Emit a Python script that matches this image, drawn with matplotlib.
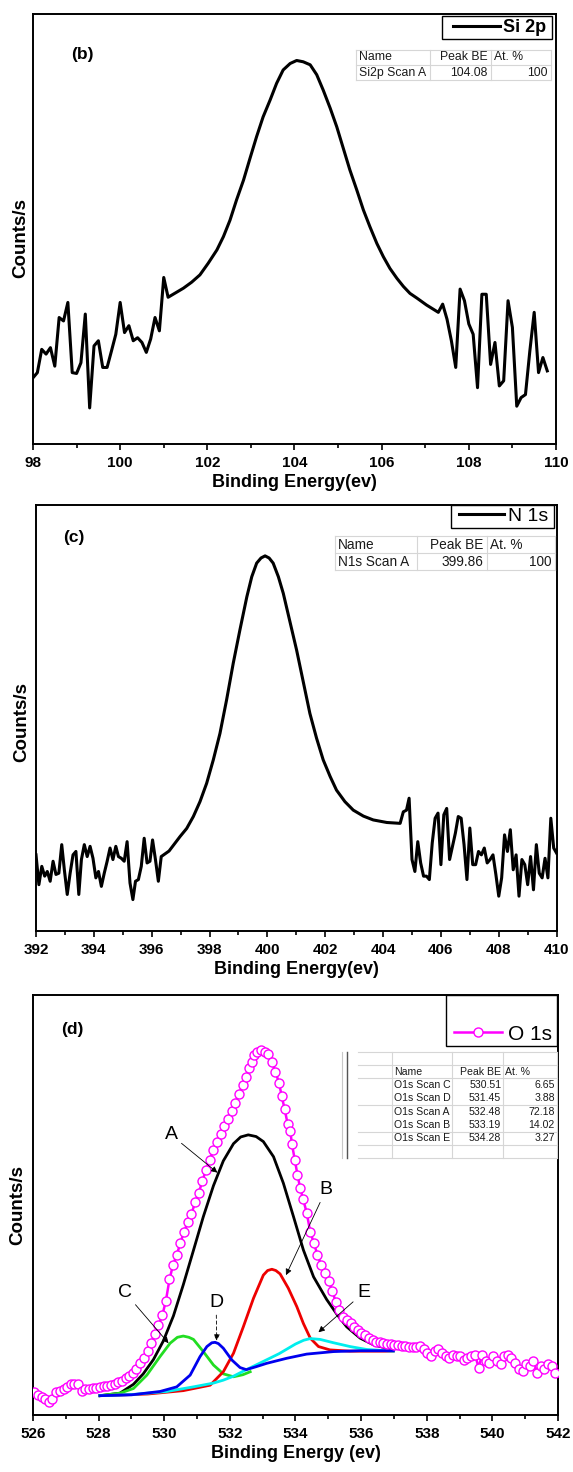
import numpy as np
import matplotlib
matplotlib.use('Agg')
import matplotlib.pyplot as plt
from matplotlib.ticker import MultipleLocator
from matplotlib.patches import Rectangle

plt.rcParams['font.family'] = ['Liberation Sans', 'DejaVu Sans']

# ---------------- Si 2p (b) ----------------
si_left_be = np.round(np.linspace(98.0, 101.1, 32), 2)
si_left_counts = [15.5, 16.7, 22.1, 21.0, 22.5, 18.2, 29.5, 28.7, 33.0, 16.7,
                  16.5, 19.0, 30.3, 8.5, 22.9, 24.1, 17.9, 17.9, 21.7, 25.6,
                  33.0, 26.0, 27.6, 24.1, 24.8, 23.7, 21.4, 24.5, 29.5, 26.4,
                  38.8, 34.2]
si_peak_be = [101.45, 101.64, 101.83, 102.02, 102.22, 102.37, 102.52, 102.67, 102.83, 102.98,
              103.13, 103.28, 103.44, 103.59, 103.74, 103.90, 104.05, 104.20, 104.36, 104.51,
              104.66, 104.82, 104.97, 105.12, 105.27, 105.43, 105.58, 105.73, 105.89, 106.04,
              106.19, 106.35, 106.50, 106.65, 106.81, 107.03]
si_peak_counts = [36.3, 37.7, 39.4, 42.1, 45.2, 48.3, 52.1, 56.8, 61.4, 66.5,
                  71.5, 76.1, 80.0, 83.9, 87.0, 88.5, 89.2, 88.9, 88.2, 85.9,
                  82.3, 78.1, 73.8, 68.8, 63.8, 59.1, 54.5, 50.6, 46.7, 43.6,
                  40.9, 38.6, 36.7, 35.1, 34.0, 32.4]
si_right_be = np.round(np.linspace(107.3, 109.8, 26), 2)
si_right_counts = [30.7, 32.6, 29.1, 24.1, 17.9, 36.1, 33.4, 28.0, 25.6, 13.2,
                   34.9, 34.9, 18.6, 23.7, 13.6, 14.8, 33.4, 27.2, 8.9, 10.9,
                   11.6, 21.7, 30.7, 16.7, 20.2, 17.1]
si_table = [["Name", "Peak BE", "At. %"], ["Si2p Scan A", "104.08", "100"]]

# ---------------- N 1s (c) ----------------
n_left_be = np.round(np.linspace(392.0, 396.33, 45), 2)
n_left_counts = [17.9, 10.9, 15.2, 12.9, 14.0, 11.7, 16.4, 13.3, 13.6, 20.3,
                 14.4, 8.6, 13.6, 17.9, 18.7, 8.6, 16.8, 20.3, 17.5, 19.9,
                 17.1, 12.5, 14.0, 10.5, 13.6, 16.4, 19.5, 16.8, 19.9, 17.5,
                 17.1, 16.4, 21.0, 11.3, 7.4, 11.7, 12.1, 15.2, 21.8, 16.0,
                 16.4, 21.4, 16.8, 11.7, 17.5]
n_peak_be = [396.60, 396.98, 397.21, 397.44, 397.67, 397.90, 398.13, 398.36, 398.59, 398.82,
             399.05, 399.29, 399.46, 399.63, 399.78, 399.92, 400.06, 400.20, 400.38, 400.55,
             400.78, 401.01, 401.24, 401.47, 401.70, 401.93, 402.17, 402.39, 402.68, 402.97,
             403.32, 403.66, 404.13, 404.59, 404.70, 404.81, 404.90]
n_peak_counts = [18.8, 22.2, 24.1, 26.9, 30.4, 34.7, 40.2, 46.4, 54.3, 62.9,
                 70.7, 78.5, 83.2, 86.4, 87.6, 88.1, 87.6, 86.4, 83.2, 79.3,
                 72.6, 66.0, 58.6, 51.1, 45.3, 40.2, 36.3, 33.1, 30.4, 28.4,
                 27.0, 26.1, 25.5, 25.3, 28.0, 28.4, 31.2]
n_right_be = np.round(np.linspace(405.0, 410.0, 51), 2)
n_right_counts = [16.8, 14.0, 21.0, 16.0, 12.9, 12.9, 12.1, 20.7, 26.5, 27.7,
                  15.6, 27.3, 28.8, 16.8, 19.9, 23.0, 26.9, 26.5, 20.3, 12.1,
                  24.2, 15.6, 15.6, 18.7, 17.9, 19.5, 16.0, 16.8, 17.9, 13.3,
                  8.2, 12.5, 22.6, 18.7, 23.8, 14.4, 17.9, 8.2, 16.8, 15.6,
                  10.9, 17.5, 9.7, 20.3, 13.6, 12.5, 17.1, 12.5, 26.5, 19.5,
                  18.3]
n_table = [["Name", "Peak BE", "At. %"], ["N1s Scan A", "399.86", "100"]]

# ---------------- O 1s (d) ----------------
o_be = [526.03, 526.14, 526.26, 526.37, 526.48, 526.59, 526.70, 526.81, 526.93, 527.04,
        527.15, 527.26, 527.37, 527.48, 527.59, 527.71, 527.82, 527.93, 528.04, 528.15,
        528.26, 528.37, 528.49, 528.60, 528.71, 528.82, 528.93, 529.04, 529.15, 529.27,
        529.38, 529.49, 529.60, 529.71, 529.82, 529.94, 530.05, 530.16, 530.27, 530.38,
        530.49, 530.60, 530.72, 530.83, 530.94, 531.05, 531.16, 531.27, 531.38, 531.50,
        531.61, 531.72, 531.83, 531.94, 532.05, 532.16, 532.28, 532.39, 532.50, 532.58,
        532.66, 532.75, 532.83, 532.95, 533.06, 533.17, 533.28, 533.39, 533.50, 533.58,
        533.67, 533.76, 533.84, 533.89, 533.98, 534.06, 534.14, 534.23, 534.34, 534.45,
        534.56, 534.67, 534.78, 534.90, 535.01, 535.12, 535.23, 535.34, 535.45, 535.57,
        535.68, 535.79, 535.90, 536.01, 536.12, 536.23, 536.35, 536.46, 536.57, 536.68,
        536.79, 536.90, 537.01, 537.13, 537.24, 537.35, 537.46, 537.57, 537.68, 537.79,
        537.91, 538.02, 538.13, 538.24, 538.35, 538.46, 538.58, 538.69, 538.80, 538.91,
        539.02, 539.13, 539.24, 539.36, 539.47, 539.58, 539.69, 539.80, 539.91, 540.02,
        540.14, 540.25, 540.36, 540.47, 540.58, 540.69, 540.80, 540.92, 541.03, 541.14,
        541.25, 541.36, 541.47, 541.58, 541.70, 541.81, 541.92]
o_counts = [5.4, 4.7, 4.3, 3.9, 3.1, 3.9, 5.4, 5.8, 6.2, 6.6,
            7.4, 7.5, 7.4, 5.8, 6.2, 6.2, 6.4, 6.5, 6.7, 6.8,
            7.0, 7.2, 7.5, 7.8, 8.2, 8.7, 9.3, 10.1, 10.9, 12.3,
            13.6, 15.2, 17.1, 19.3, 21.4, 23.7, 27.2, 32.3, 35.8, 38.1,
            40.9, 43.6, 45.9, 47.9, 50.6, 52.9, 55.6, 58.4, 60.7, 63.0,
            65.0, 66.9, 68.9, 70.4, 72.4, 74.3, 76.4, 78.6, 80.5, 82.5,
            84.0, 85.6, 86.4, 86.8, 86.5, 86.0, 84.0, 81.7, 79.0, 75.9,
            72.8, 69.3, 67.7, 64.6, 60.7, 57.2, 54.1, 51.4, 48.2, 43.6,
            40.9, 38.1, 35.8, 33.9, 31.9, 29.6, 26.8, 24.9, 23.3, 22.6,
            21.8, 21.0, 20.2, 19.5, 19.1, 18.4, 17.9, 17.5, 17.4, 17.1,
            17.0, 16.9, 16.7, 16.7, 16.5, 16.4, 16.3, 16.3, 16.3, 16.5,
            15.6, 14.8, 14.0, 15.2, 15.6, 14.8, 14.0, 13.6, 14.4, 14.0,
            14.0, 13.2, 13.6, 14.0, 14.4, 11.3, 14.4, 12.8, 12.5, 14.0,
            12.8, 12.1, 14.0, 14.4, 13.6, 12.5, 10.9, 10.5, 12.1, 11.7,
            12.8, 10.1, 11.7, 10.9, 12.1, 11.7, 10.1]

a_be = [528.04, 528.65, 529.06, 529.36, 529.67, 529.97, 530.28, 530.58, 530.89, 531.19,
        531.50, 531.80, 532.11, 532.33, 532.56, 532.80, 533.02, 533.33, 533.63, 533.94,
        534.24, 534.55, 534.95, 535.26, 535.56, 535.97, 536.38, 536.98]
a_counts = [4.6, 5.2, 7.3, 9.8, 13.2, 17.6, 23.6, 31.0, 39.2, 47.2,
            54.6, 60.5, 64.6, 66.2, 66.7, 66.3, 65.1, 61.5, 55.2, 47.2,
            39.3, 32.9, 27.5, 24.0, 21.0, 18.3, 16.7, 15.5]
b_be = [528.04, 529.50, 530.58, 531.40, 531.80, 532.11, 532.41, 532.72, 533.02, 533.15,
        533.28, 533.40, 533.53, 533.78, 534.04, 534.24, 534.45, 534.70, 535.05, 535.66,
        536.98]
b_counts = [4.6, 5.0, 5.8, 7.1, 10.3, 14.7, 21.0, 27.8, 33.3, 34.4,
            34.7, 34.4, 33.6, 30.2, 25.8, 21.8, 18.3, 16.3, 15.5, 15.2,
            15.2]
c_be = [528.04, 528.65, 529.06, 529.47, 529.87, 530.18, 530.40, 530.58, 530.75, 530.89,
        531.19, 531.50, 531.80, 532.11, 532.40, 532.62]
c_counts = [4.6, 5.2, 6.3, 9.5, 13.9, 17.1, 18.5, 18.8, 18.5, 18.0,
            15.1, 11.9, 9.8, 9.1, 9.6, 10.3]
d_be = [528.04, 529.00, 529.87, 530.38, 530.79, 531.09, 531.30, 531.45, 531.55, 531.65,
        531.80, 532.06, 532.31, 532.50, 532.80, 533.12, 533.73, 534.34, 535.16, 535.97,
        536.98]
d_counts = [4.6, 4.8, 5.6, 6.7, 9.5, 13.9, 16.3, 17.2, 17.3, 17.0,
            15.9, 13.1, 11.3, 10.8, 11.5, 12.3, 13.5, 14.5, 15.1, 15.3,
            15.3]
e_be = [528.04, 529.06, 530.08, 530.89, 531.50, 531.80, 532.10, 532.40, 532.90, 533.50,
        534.00, 534.25, 534.45, 534.75, 535.16, 535.66, 536.17, 536.98]
e_counts = [4.6, 4.9, 5.6, 6.7, 7.6, 8.3, 9.2, 10.4, 12.3, 14.6,
            16.9, 17.8, 18.2, 18.0, 17.2, 16.3, 15.6, 15.2]

o_table = [["", "", "", ""],
           ["", "Name", "Peak BE", "At. %"],
           ["", "O1s Scan C", "530.51", "6.65"],
           ["", "O1s Scan D", "531.45", "3.88"],
           ["", "O1s Scan A", "532.48", "72.18"],
           ["", "O1s Scan B", "533.19", "14.02"],
           ["", "O1s Scan E", "534.28", "3.27"],
           ["", "", "", ""]]

# (label, text position, arrow tip, dashed)
o_labels = [("A", (530.21, 66.7), (531.62, 57.7), False),
            ("B", (534.93, 53.6), (533.71, 33.3), False),
            ("C", (528.80, 29.2), (530.13, 17.1), False),
            ("D", (531.58, 26.8), (531.60, 17.7), True),
            ("E", (536.07, 29.1), (534.70, 19.7), False)]


def draw_table(ax, rows, cols, y_top, row_h, aligns, fs, hlines=None, pad=0.006):
    n = len(rows)
    if hlines is None:
        hlines = range(n + 1)
    for i in hlines:
        y = y_top - i * row_h
        ax.plot([cols[0], cols[-1]], [y, y], transform=ax.transAxes,
                color='#d6d6d6', lw=0.8, clip_on=False, zorder=4)
    for x in cols:
        ax.plot([x, x], [y_top, y_top - n * row_h], transform=ax.transAxes,
                color='#d6d6d6', lw=0.8, clip_on=False, zorder=4)
    for i, row in enumerate(rows):
        y = y_top - (i + 0.5) * row_h
        for j, txt in enumerate(row):
            if aligns[j] == 'left':
                x = cols[j] + pad
            else:
                x = cols[j + 1] - pad
            ax.text(x, y, txt, transform=ax.transAxes, ha=aligns[j], va='center',
                    fontsize=fs, color='#1a1a1a', zorder=5)


def style_axes(ax, xmin, xmax, xlabel, ylab_x, ylab_y):
    ax.set_xlim(xmin, xmax)
    ax.set_ylim(0, 100)
    ax.set_yticks([])
    ax.set_xticks(np.arange(xmin, xmax + 1, 2))
    ax.xaxis.set_minor_locator(MultipleLocator(1))
    ax.tick_params(axis='x', which='major', direction='out', length=4.5, width=1.2,
                   labelsize=11, pad=4)
    ax.tick_params(axis='x', which='minor', direction='out', length=3, width=1.2)
    for lbl in ax.get_xticklabels():
        lbl.set_fontweight('bold')
    for sp in ax.spines.values():
        sp.set_linewidth(1.4)
    ax.set_xlabel(xlabel, fontsize=13, fontweight='bold', labelpad=3)
    ax.set_ylabel("Counts/s", fontsize=13.5, fontweight='bold')
    ax.yaxis.set_label_coords(ylab_x, ylab_y)


def legend_box(ax, x0, y0, w, h, handle, label, fs, weight, hl, htp, ty):
    ax.add_patch(Rectangle((x0, y0), w, h, transform=ax.transAxes, facecolor='white',
                           edgecolor='black', lw=1.0, zorder=6, clip_on=False))
    leg = ax.legend([handle], [label], loc='center right', bbox_to_anchor=(x0 + w - 0.01, ty),
                    frameon=False, borderpad=0, borderaxespad=0, handlelength=hl,
                    handletextpad=htp, numpoints=1,
                    prop={'size': fs, 'weight': weight})
    leg.set_zorder(7)


def header_left(ax, x):
    for t in ax.texts:
        if t.get_text() == "At. %":
            t.set_ha('left')
            t.set_x(x)


fig = plt.figure(figsize=(5.73, 14.72), dpi=100)

# Panel (b)
ax1 = fig.add_axes([0.05759, 0.69803, 0.9127, 0.29246])
si_be = np.concatenate([si_left_be, si_peak_be, si_right_be])
si_counts = np.concatenate([si_left_counts, si_peak_counts, si_right_counts])
line1, = ax1.plot(si_be, si_counts, color='black', lw=2.2)
style_axes(ax1, 98, 110, "Binding Energy(ev)", -0.008, 0.48)
ax1.text(0.094, 0.905, "(b)", transform=ax1.transAxes, fontsize=12.5, fontweight='bold',
         ha='center', va='center')
legend_box(ax1, 0.783, 0.941, 0.209, 0.0545, line1, "Si 2p", 13, 'bold', 2.6, 0.2, 0.968)
draw_table(ax1, si_table, [0.617, 0.7595, 0.8754, 0.9897], 0.9175, 0.03575,
           ['left', 'right', 'right'], 8.8)
header_left(ax1, 0.8754 + 0.006)

# Panel (c)
ax2 = fig.add_axes([0.06283, 0.36746, 0.90855, 0.28934])
n_be = np.concatenate([n_left_be, n_peak_be, n_right_be])
n_counts = np.concatenate([n_left_counts, n_peak_counts, n_right_counts])
line2, = ax2.plot(n_be, n_counts, color='black', lw=2.2)
style_axes(ax2, 392, 410, "Binding Energy(ev)", -0.012, 0.49)
ax2.text(0.073, 0.923, "(c)", transform=ax2.transAxes, fontsize=12.5, fontweight='bold',
         ha='center', va='center')
legend_box(ax2, 0.798, 0.947, 0.1965, 0.053, line2, "N 1s", 14, 'normal', 2.35, 0.2, 0.9735)
draw_table(ax2, n_table, [0.574, 0.732, 0.866, 0.997], 0.9275, 0.040,
           ['left', 'right', 'right'], 9.8)
header_left(ax2, 0.866 + 0.006)

# Panel (d)
ax3 = fig.add_axes([0.05759, 0.03872, 0.91623, 0.28533])
ax3.plot(a_be, a_counts, color='black', lw=2.0, zorder=2)
ax3.plot(c_be, c_counts, color='#22DD22', lw=2.0, zorder=2)
ax3.plot(b_be, b_counts, color='#EE0000', lw=2.0, zorder=2)
ax3.plot(e_be, e_counts, color='#00EEEE', lw=2.0, zorder=2)
ax3.plot(d_be, d_counts, color='#0000EE', lw=2.0, zorder=2)
line3, = ax3.plot(o_be, o_counts, color='#FF00FF', lw=1.8, marker='o', markersize=6.5,
                  markerfacecolor='white', markeredgecolor='#FF00FF', markeredgewidth=1.0,
                  zorder=3)
for name, txt_pos, tip, dashed in o_labels:
    props = dict(arrowstyle='-|>', color='black', lw=0.6, mutation_scale=9,
                 shrinkA=1, shrinkB=0)
    if dashed:
        props['linestyle'] = (0, (4, 3))
    ax3.annotate(name, xy=tip, xytext=txt_pos, ha='center', va='center', fontsize=14,
                 arrowprops=props, zorder=4)
style_axes(ax3, 526, 542, "Binding Energy (ev)", -0.012, 0.5)
ax3.text(0.075, 0.918, "(d)", transform=ax3.transAxes, fontsize=12.5, fontweight='bold',
         ha='center', va='center')
legend_box(ax3, 0.787, 0.879, 0.211, 0.121, line3, "O 1s", 15, 'normal', 2.35, 0.25, 0.907)
draw_table(ax3, o_table, [0.5975, 0.684, 0.799, 0.896, 0.998], 0.865, 0.0317,
           ['left', 'left', 'right', 'right'], 7.6, hlines=[], pad=0.004)
header_left(ax3, 0.896 + 0.004)
for i in [0, 1, 2, 4, 6, 7, 8]:
    y = 0.865 - i * 0.0317
    ax3.plot([0.619, 0.998], [y, y], transform=ax3.transAxes, color='#d6d6d6', lw=0.8,
             clip_on=False, zorder=4)
ax3.plot([0.588, 0.588], [0.865, 0.865 - 8 * 0.0317], transform=ax3.transAxes,
         color='#c8c8c8', lw=0.8, zorder=4)
ax3.plot([0.5975, 0.5975], [0.865, 0.865 - 8 * 0.0317], transform=ax3.transAxes,
         color='#555555', lw=1.0, zorder=4)

fig.savefig('out.png', dpi=100)
